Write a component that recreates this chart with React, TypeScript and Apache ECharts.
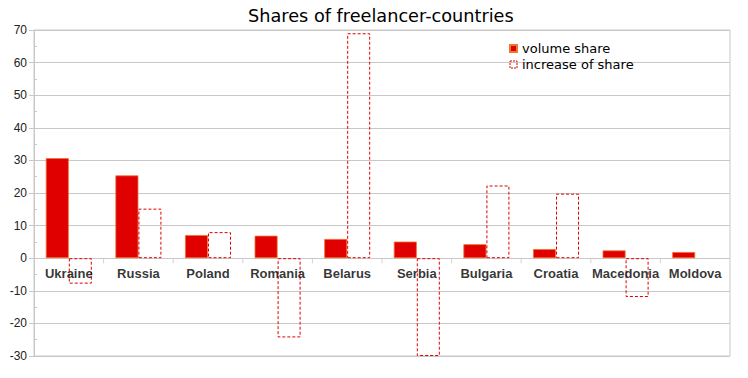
import React, { useEffect, useRef } from "react";
import * as echarts from "echarts";

const categories = ["Ukraine", "Russia", "Poland", "Romania", "Belarus", "Serbia", "Bulgaria", "Croatia", "Macedonia", "Moldova"];
const volumeShare = [30.7, 25.4, 7.1, 6.9, 5.9, 5.1, 4.3, 2.8, 2.4, 1.9];
const increaseShare: (number | null)[] = [-7.8, 15.2, 8.0, -24.3, 69.0, -30.0, 22.3, 19.8, -11.9, null];
const yMin = -30;
const yMax = 70;

export default function App() {
  const ref = useRef<HTMLDivElement>(null);
  useEffect(() => {
    document.body.style.margin = "0";
    if (!ref.current) return;
    const chart = echarts.init(ref.current, undefined, { renderer: "svg" });
    const gridColor = "#c8c8c8";
    const boundaries = categories.slice(1).map((_, i) => i + 1);
    chart.setOption({
      animation: false,
      backgroundColor: "#ffffff",
      title: {
        text: "Shares of freelancer-countries",
        left: 243,
        top: 2,
        textStyle: { fontFamily: "DejaVu Sans", fontSize: 17.7, fontWeight: "normal", color: "#000" },
      },
      legend: {
        orient: "vertical",
        left: 504,
        top: 37,
        itemWidth: 7,
        itemHeight: 7,
        itemGap: 3,
        icon: "rect",
        textStyle: { fontFamily: "DejaVu Sans", fontSize: 13, color: "#000" },
        data: [
          { name: "volume share" },
          { name: "increase of share", itemStyle: { borderType: [2, 1], borderWidth: 1, borderColor: "#e00000", color: "rgba(255,255,255,0)" } },
        ],
      },
      grid: {
        left: 34,
        right: 18,
        top: 30,
        bottom: 22,
        show: true,
        borderColor: gridColor,
        borderWidth: 1,
      },
      xAxis: [
        {
          type: "category",
          data: categories,
          axisLine: { show: false },
          axisTick: { show: false },
          axisLabel: { show: false },
          splitLine: { show: false },
        },
        {
          type: "value",
          min: 0,
          max: categories.length,
          show: false,
        },
      ],
      yAxis: [
        {
          type: "value",
          min: yMin,
          max: yMax,
          interval: 10,
          axisLine: { show: true, lineStyle: { color: gridColor } },
          axisTick: { show: true, length: 5, lineStyle: { color: gridColor } },
          axisLabel: { fontFamily: "Liberation Sans", fontSize: 12, color: "#222", margin: 7 },
          splitLine: { show: true, lineStyle: { color: gridColor } },
        },
        {
          type: "value",
          position: "left",
          min: yMin,
          max: yMax,
          interval: 5,
          axisLine: { show: false },
          axisTick: { show: true, inside: true, length: 3, lineStyle: { color: gridColor } },
          axisLabel: { show: false },
          splitLine: { show: false },
        },
      ],
      series: [
        {
          name: "volume share",
          type: "bar",
          data: volumeShare,
          barWidth: 23,
          barGap: "0%",
          itemStyle: { color: "#e00000", borderColor: "#ee7733", borderWidth: 0.8 },
        },
        {
          name: "increase of share",
          type: "bar",
          data: increaseShare,
          barWidth: 23,
          barGap: "0%",
          itemStyle: {
            color: "rgba(255,255,255,0)",
            borderColor: "#e00000",
            borderWidth: 1,
            borderType: [3, 2],
          },
        },
        {
          name: "categoryLabels",
          type: "scatter",
          xAxisIndex: 0,
          data: categories.map((c) => [c, 0]),
          symbolSize: 0,
          silent: true,
          z: 5,
          label: {
            show: true,
            position: "bottom",
            distance: 9,
            formatter: (p: any) => p.value[0],
            fontFamily: "Liberation Sans",
            fontWeight: "bold",
            fontSize: 13,
            color: "#000",
          },
        },
        {
          name: "categoryTicks",
          type: "scatter",
          xAxisIndex: 1,
          data: boundaries.map((b) => [b, 0]),
          symbol: "rect",
          symbolSize: [1, 5],
          symbolOffset: [0, 2.5],
          silent: true,
          itemStyle: { color: gridColor },
        },
      ],
    });
    return () => chart.dispose();
  }, []);
  return <div ref={ref} style={{ width: 748, height: 378 }} />;
}
